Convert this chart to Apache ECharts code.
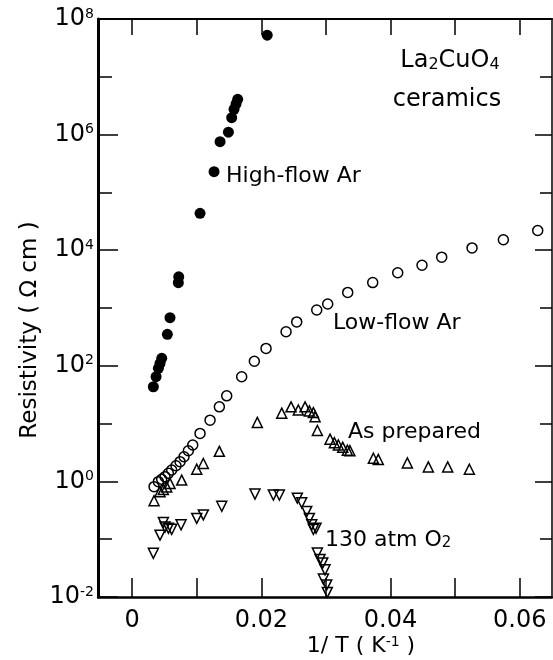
<!DOCTYPE html>
<html><head><meta charset="utf-8">
<script src="https://cdn.jsdelivr.net/npm/echarts@6/dist/echarts.min.js"></script>
<style>html,body{margin:0;padding:0;background:#fff}#c{width:553px;height:660px}</style>
</head><body><div id="c"></div>
<script>
// ---- data (1/T in K^-1, resistivity in Ohm cm) ----
const highFlowX = [0.00327,0.00369,0.00405,0.0043,0.00457,0.00544,0.00585,0.00714,0.0072,0.0105,0.01267,0.0136,0.01489,0.0154,0.01576,0.01607,0.01633,0.0209];
const highFlowY = [43.4,64.7,90.6,110,135,350,679,2740,3470,43500,228000,753000,1.1e6,1.96e6,2.74e6,3.38e6,4.08e6,5.25e7];

const lowFlowX = [0.00338,0.00405,0.00456,0.00508,0.0056,0.00611,0.00678,0.0074,0.00802,0.00869,0.00937,0.0105,0.01205,0.01349,0.01463,0.01695,0.01891,0.02072,0.02382,0.02547,0.02857,0.03027,0.03337,0.03724,0.04111,0.04487,0.04792,0.05262,0.05747,0.06279];
const lowFlowY = [0.811,0.989,1.087,1.208,1.377,1.574,1.866,2.193,2.673,3.396,4.266,6.761,11.48,19.5,30.2,64.6,120,200,389,575,923,1175,1862,2754,4074,5495,7586,10965,15136,21878];

const asPrepX = [0.00338,0.0043,0.00482,0.00534,0.00585,0.00766,0.00999,0.01101,0.01349,0.01937,0.02315,0.02459,0.02572,0.02676,0.02743,0.02805,0.02831,0.02867,0.03063,0.0313,0.03192,0.0326,0.03331,0.0337,0.03734,0.0381,0.0426,0.04585,0.04885,0.0522];
const asPrepY = [0.463,0.664,0.724,0.804,0.923,1.054,1.622,2.042,3.311,10.47,15.14,19.5,17.18,19.5,16.6,15.49,13.18,7.586,5.37,4.677,4.266,3.89,3.467,3.4,2.512,2.399,2.089,1.778,1.778,1.622];

const o2X = [0.00327,0.0043,0.00482,0.00508,0.0056,0.00611,0.00756,0.00999,0.01101,0.01386,0.01901,0.02185,0.02278,0.02557,0.02624,0.02702,0.02743,0.0278,0.02805,0.02846,0.02867,0.02908,0.0295,0.02985,0.0296,0.03012,0.03021];
const o2Y = [0.057,0.1175,0.195,0.162,0.155,0.148,0.178,0.229,0.263,0.372,0.603,0.582,0.582,0.513,0.427,0.302,0.229,0.178,0.148,0.155,0.0575,0.0447,0.0389,0.0295,0.0204,0.0162,0.012];

const xTicks = [0,0.01,0.02,0.03,0.04,0.05,0.06];
const xLabels = [0,0.02,0.04,0.06];
const yTicks = [1e-2,1e-1,1,1e1,1e2,1e3,1e4,1e5,1e6,1e7,1e8];
const yLabels = [1e-2,1,1e2,1e4,1e6,1e8];

const FONT = 'DejaVu Sans';
const pairs = (xs, ys) => xs.map((x, i) => [x, ys[i]]);

const yLabelFmt = v => {
  const e = Math.round(Math.log10(v));
  return '{b|10}{s|' + e + '}';
};
const yRich = {
  b: {fontSize: 24, lineHeight: 24, fontFamily: FONT, color: '#000'},
  s: {fontSize: 14, lineHeight: 14, verticalAlign: 'top', fontFamily: FONT, color: '#000'}
};

function yAx(pos, ticks, len, withLabels, lineW) {
  return {
    type: 'log', logBase: 10, min: 1e-2, max: 1e8, position: pos,
    axisLine: {show: lineW > 0, onZero: false, lineStyle: {color: '#000', width: lineW}},
    axisTick: {show: true, inside: true, length: len, customValues: ticks, lineStyle: {color: '#000', width: 1.5}},
    axisLabel: withLabels ? {show: true, customValues: yLabels, formatter: yLabelFmt, rich: yRich, margin: 4} : {show: false},
    splitLine: {show: false}, minorTick: {show: false}
  };
}

const openStyle = {color: 'rgba(255,255,255,0)', borderColor: '#000', borderWidth: 1.5, opacity: 1};

const chart = echarts.init(document.getElementById('c'), null, {renderer: 'canvas'});
chart.setOption({
  animation: false,
  backgroundColor: '#fff',
  grid: {left: 98, top: 19, width: 454, height: 578, containLabel: false},
  xAxis: [
    {type: 'value', min: -0.0053, max: 0.065, position: 'bottom',
     axisLine: {onZero: false, lineStyle: {color: '#000', width: 2.5}},
     axisTick: {inside: true, length: 19, customValues: xTicks, lineStyle: {color: '#000', width: 1.5}},
     axisLabel: {customValues: xLabels, margin: 12, fontSize: 24, fontFamily: FONT, color: '#000',
                 formatter: v => (v === 0 ? '0' : v.toFixed(2))},
     splitLine: {show: false}},
    {type: 'value', min: -0.0053, max: 0.065, position: 'top',
     axisLine: {onZero: false, lineStyle: {color: '#000', width: 2}},
     axisTick: {inside: true, length: 16, customValues: xTicks, lineStyle: {color: '#000', width: 1.5}},
     axisLabel: {show: false}, splitLine: {show: false}}
  ],
  yAxis: [
    yAx('left', yTicks, 14, false, 3),
    yAx('left', yLabels, 20, true, 0),
    yAx('right', yTicks, 12, false, 1.5),
    yAx('right', yLabels, 17, false, 0)
  ],
  series: [
    {name: 'High-flow Ar', type: 'scatter', data: pairs(highFlowX, highFlowY), symbol: 'circle', symbolSize: 11,
     itemStyle: {color: '#000', opacity: 1}},
    {name: 'Low-flow Ar', type: 'scatter', data: pairs(lowFlowX, lowFlowY), symbol: 'circle', symbolSize: 10,
     itemStyle: openStyle},
    {name: 'As prepared', type: 'scatter', data: pairs(asPrepX, asPrepY), symbol: 'triangle', symbolSize: 10,
     itemStyle: openStyle},
    {name: '130 atm O2', type: 'scatter', data: pairs(o2X, o2Y), symbol: 'triangle', symbolRotate: 180, symbolSize: 10,
     itemStyle: openStyle}
  ],
  graphic: [
    {type: 'text', x: 226, y: 176, style: {text: 'High-flow Ar', font: '22px "DejaVu Sans"', fill: '#000', textVerticalAlign: 'middle'}},
    {type: 'text', x: 333, y: 323, style: {text: 'Low-flow Ar', font: '22px "DejaVu Sans"', fill: '#000', textVerticalAlign: 'middle'}},
    {type: 'text', x: 348, y: 432, style: {text: 'As prepared', font: '22px "DejaVu Sans"', fill: '#000', textVerticalAlign: 'middle'}},
    {type: 'text', x: 325, y: 540, style: {text: '130 atm O{sub|2}', font: '22px "DejaVu Sans"', fill: '#000', textVerticalAlign: 'middle',
      rich: {sub: {fontSize: 15, fontFamily: FONT, verticalAlign: 'bottom', lineHeight: 15}}}},
    {type: 'text', x: 450, y: 61, style: {text: 'La{sub|2}CuO{sub|4}', font: '24px "DejaVu Sans"', fill: '#000', align: 'center', verticalAlign: 'middle',
      rich: {sub: {fontSize: 16, fontFamily: FONT, verticalAlign: 'bottom', lineHeight: 16}}}},
    {type: 'text', x: 447, y: 100, style: {text: 'ceramics', font: '24px "DejaVu Sans"', fill: '#000', align: 'center', verticalAlign: 'middle'}},
    {type: 'text', x: 361, y: 646, style: {text: '1/ T ( K{sup|-1} )', font: '22px "DejaVu Sans"', fill: '#000', align: 'center', verticalAlign: 'middle',
      rich: {sup: {fontSize: 14, fontFamily: FONT, verticalAlign: 'top', lineHeight: 14}}}},
    {type: 'text', x: 30, y: 330, rotation: Math.PI / 2, style: {text: 'Resistivity ( \u03A9 cm )', font: '23px "DejaVu Sans"', fill: '#000', align: 'center', verticalAlign: 'middle'}}
  ]
});
</script></body></html>
